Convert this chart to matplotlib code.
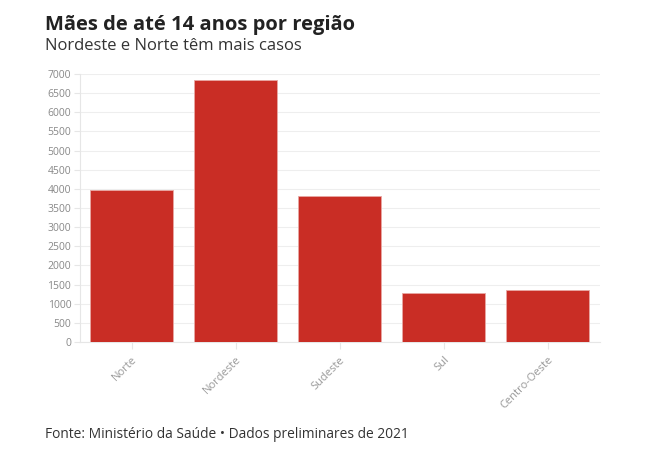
import matplotlib.pyplot as plt
import numpy as np

plt.rcParams['font.family'] = ['Open Sans', 'DejaVu Sans']

regioes = ['Norte', 'Nordeste', 'Sudeste', 'Sul', 'Centro-Oeste']
maes = [3970, 6845, 3815, 1285, 1360]
yticks = np.arange(0, 7001, 500)

fig = plt.figure(figsize=(6.58, 4.75), dpi=100)
ax = fig.add_axes([79.5/658, 1-342/475, 520/658, 268/475])

x = np.arange(len(regioes))
ax.bar(x, maes, width=0.8, color='#c92d25', edgecolor='#e8a8a4', linewidth=0.6, zorder=3)
ax.set_xlim(-0.5, len(regioes) - 0.5)
ax.set_ylim(0, 7000)
ax.set_yticks(yticks)
ax.set_yticklabels([str(v) for v in yticks], fontsize=7.5, color='#888888')
ax.set_xticks(x)
ax.set_xticklabels(regioes, rotation=45, ha='right', rotation_mode='anchor',
                   fontsize=8, color='#999999')
ax.grid(axis='y', color='#eeeeee', linewidth=0.8, zorder=0)
for s in ['top', 'right']:
    ax.spines[s].set_visible(False)
ax.spines['left'].set_color('#e6e6e6')
ax.spines['bottom'].set_color('#e6e6e6')
ax.tick_params(axis='y', length=4, color='#e6e6e6', pad=2)
ax.tick_params(axis='x', length=5, color='#e6e6e6', pad=4)

fig.text(45/658, 1-25/475, 'Mães de até 14 anos por região', fontsize=14.5,
         fontweight='bold', color='#222222', va='center')
fig.text(45/658, 1-46/475, 'Nordeste e Norte têm mais casos', fontsize=12,
         color='#333333', va='center')
fig.text(45/658, 1-434/475, 'Fonte: Ministério da Saúde • Dados preliminares de 2021',
         fontsize=9.9, color='#333333', va='center')

fig.savefig('out.png', dpi=100)
